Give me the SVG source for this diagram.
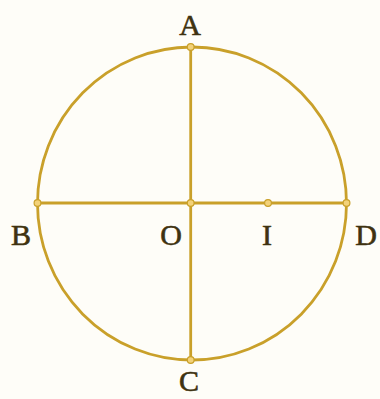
<svg xmlns="http://www.w3.org/2000/svg" width="380" height="399" viewBox="0 0 380 399">
<style>
.ln{stroke:#c9a02a;stroke-width:2.8;fill:none}
.pt{fill:#f3d27a;stroke:#c9a02a;stroke-width:1.2}
.lb{font-family:"Liberation Serif",serif;font-size:30px;fill:#3f3210;stroke:#3f3210;stroke-width:0.6;text-anchor:middle}
</style>
<rect width="380" height="399" fill="#fefdf8"/>
<g id="connectors">
<ellipse class="ln" cx="192" cy="203.5" rx="154.5" ry="156.5"/>
<line class="ln" x1="190.7" y1="47" x2="190.7" y2="360"/>
<line class="ln" x1="37.5" y1="203" x2="346.5" y2="203"/>
</g>
<g id="A"><circle class="pt" cx="190.7" cy="47" r="3.4"/><text class="lb" x="190" y="35">A</text></g>
<g id="B"><circle class="pt" cx="37.5" cy="203" r="3.4"/><text class="lb" x="21" y="245">B</text></g>
<g id="O"><circle class="pt" cx="190.7" cy="203" r="3.4"/><text class="lb" x="171" y="245">O</text></g>
<g id="I"><circle class="pt" cx="268" cy="203" r="3.4"/><text class="lb" x="267" y="245">I</text></g>
<g id="D"><circle class="pt" cx="346.5" cy="203" r="3.4"/><text class="lb" x="366" y="245">D</text></g>
<g id="C"><circle class="pt" cx="190.7" cy="360" r="3.4"/><text class="lb" x="189" y="391">C</text></g>
</svg>
